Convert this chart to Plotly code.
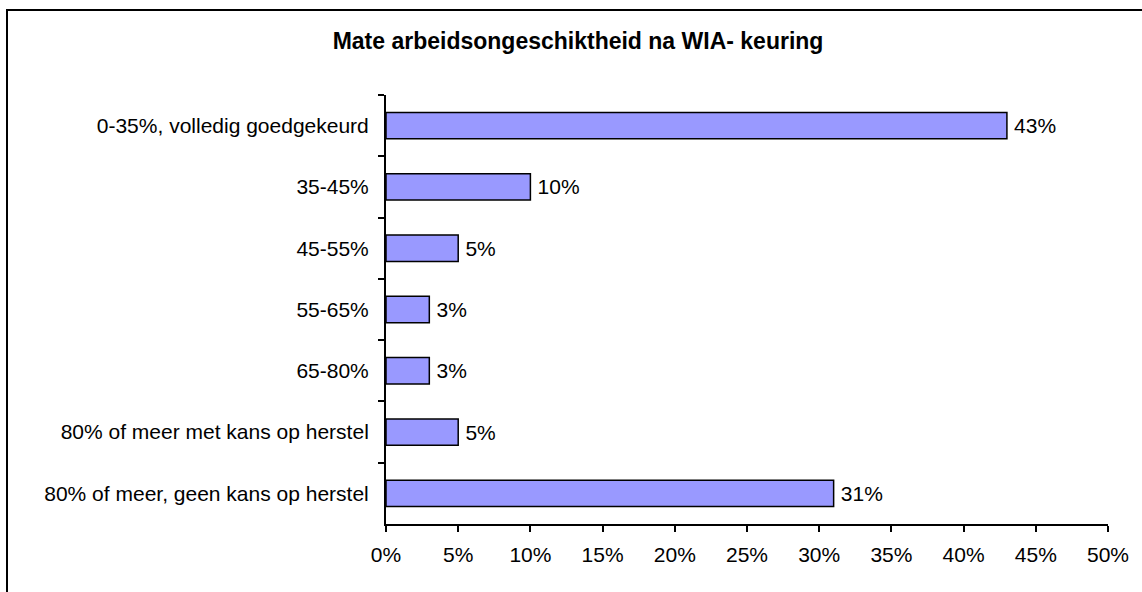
import plotly.graph_objects as go

categories = [
    "0-35%, volledig goedgekeurd",
    "35-45%",
    "45-55%",
    "55-65%",
    "65-80%",
    "80% of meer met kans op herstel",
    "80% of meer, geen kans op herstel",
]
values = [0.43, 0.10, 0.05, 0.03, 0.03, 0.05, 0.31]
x_ticks = [0, 0.05, 0.10, 0.15, 0.20, 0.25, 0.30, 0.35, 0.40, 0.45, 0.50]
title_text = "Mate arbeidsongeschiktheid na WIA- keuring"

W, H = 1142, 592
L, R, T, B = 386, 34, 95, 68
pw, ph = W - L - R, H - T - B

FONT = "Liberation Sans, Arial, sans-serif"

fig = go.Figure(go.Bar(
    x=values,
    y=categories,
    orientation="h",
    width=0.43,
    marker=dict(color="#9999FF", line=dict(color="black", width=1.5)),
    texttemplate="\u2009%{x:.0%}",
    textposition="outside",
    textfont=dict(family=FONT, size=21, color="black"),
    cliponaxis=False,
))

def px_x(p):
    return (p - L) / pw

def px_y(p):
    return (H - B - p) / ph

fig.update_layout(
    width=W, height=H,
    margin=dict(l=L, r=R, t=T, b=B),
    paper_bgcolor="white",
    plot_bgcolor="white",
    showlegend=False,
    font=dict(family=FONT, size=21, color="black"),
    title=dict(
        text="<b>" + title_text + "</b>",
        x=578 / W, xanchor="center",
        y=1 - 41 / H, yanchor="middle",
        font=dict(family=FONT, size=23, color="black"),
    ),
    xaxis=dict(
        range=[0, 0.5],
        tickvals=x_ticks,
        tickformat=".0%",
        showgrid=False,
        zeroline=False,
        showline=True, linecolor="black", linewidth=2,
        ticks="outside", ticklen=6, tickwidth=2, tickcolor="black",
        ticklabelstandoff=5,
        tickfont=dict(family=FONT, size=21, color="black"),
    ),
    yaxis=dict(
        type="category",
        categoryorder="array",
        categoryarray=categories,
        autorange="reversed",
        tickson="boundaries",
        showgrid=False,
        zeroline=False,
        showline=True, linecolor="black", linewidth=2,
        ticks="outside", ticklen=6, tickwidth=2, tickcolor="black",
        ticklabelstandoff=11,
        tickfont=dict(family=FONT, size=21, color="black"),
    ),
    shapes=[dict(
        type="rect", xref="paper", yref="paper",
        x0=px_x(7), x1=px_x(1160), y0=px_y(610), y1=px_y(10),
        line=dict(color="black", width=2), fillcolor="rgba(0,0,0,0)",
        layer="above",
    )],
)

fig.write_html(
    "out.html",
    config={"displayModeBar": False},
    post_script="document.body.style.margin='0px';document.body.style.overflow='hidden';",
)
